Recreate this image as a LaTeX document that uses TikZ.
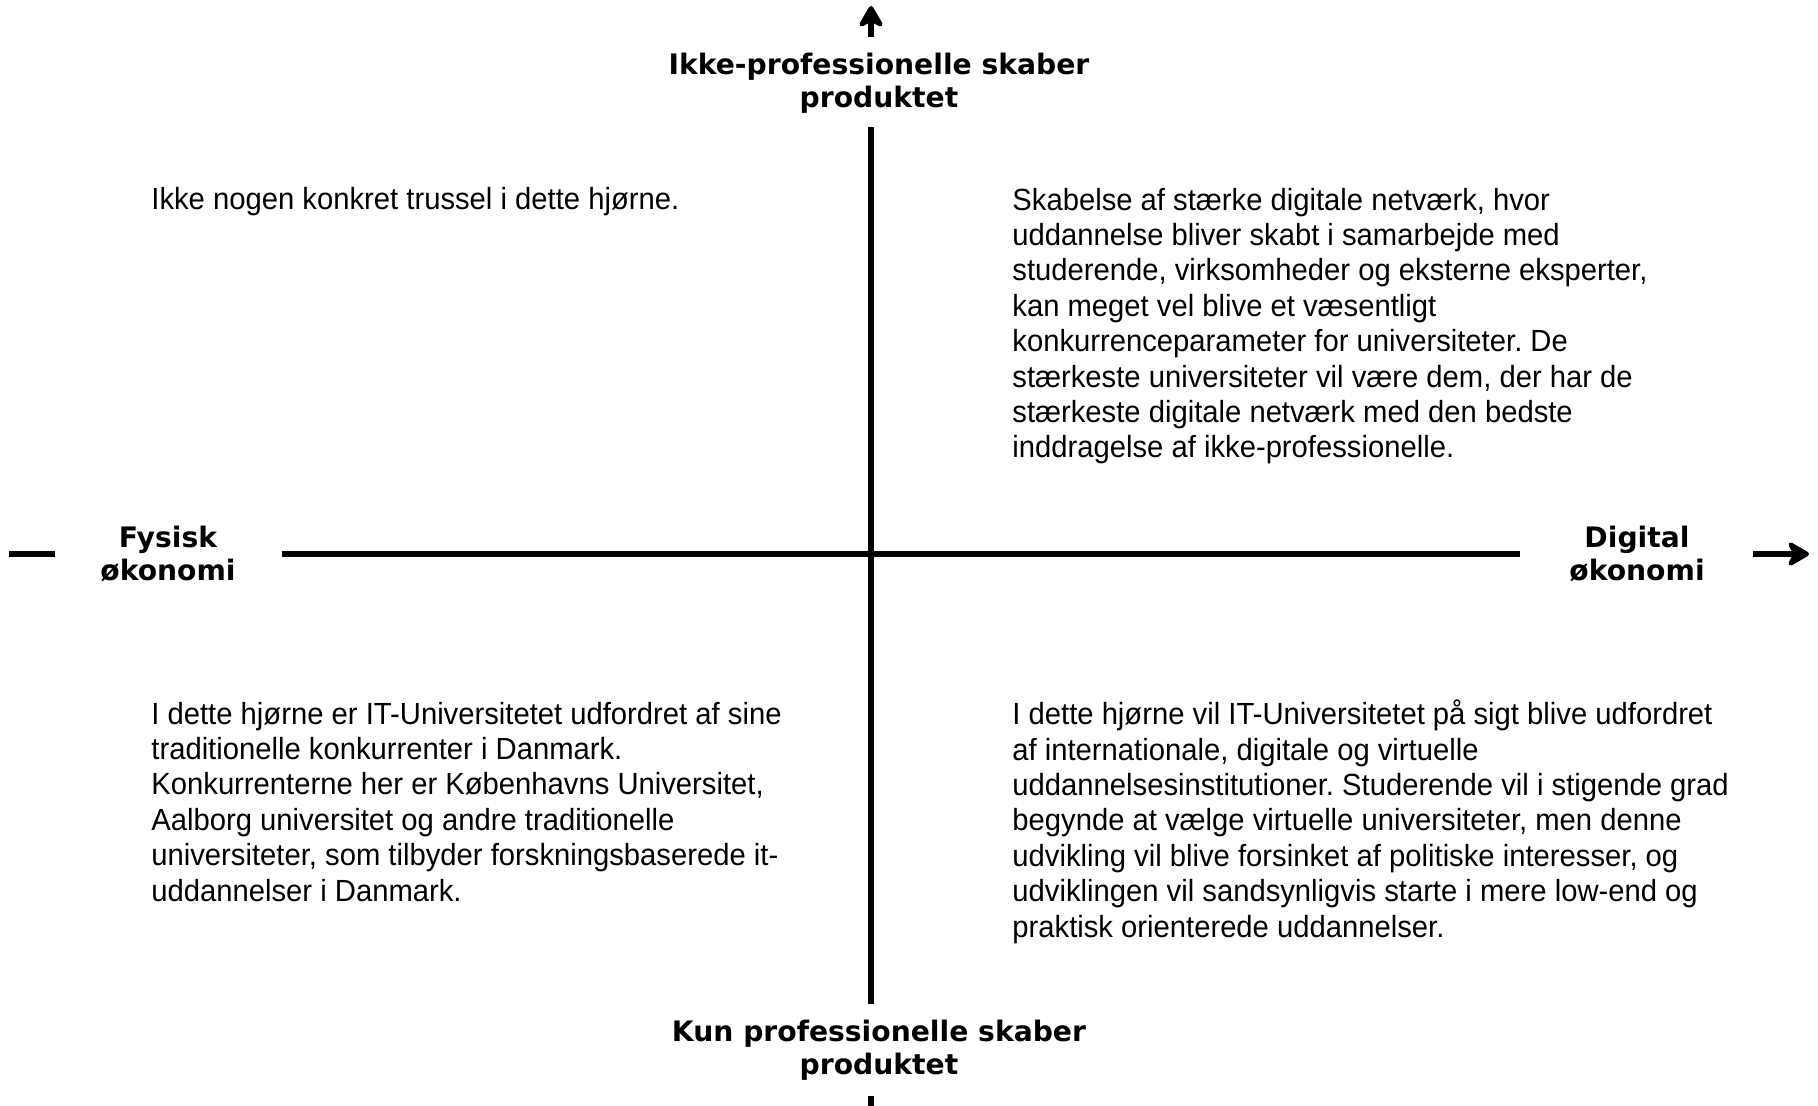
\documentclass[tikz,border=0pt]{standalone}
\usepackage{fontspec}
\setmainfont{Liberation Sans}[FakeStretch=0.955]
\newfontfamily\polefont{DejaVu Sans}
\usetikzlibrary{arrows.meta}
\frenchspacing

\begin{document}
\begin{tikzpicture}[x=0.5pt,y=-0.5pt,
  axis/.style={line width=3pt},
  tip/.style={-{Stealth[length=13pt,width=15pt,inset=4pt,round]}},
  pole/.style={font={\polefont\bfseries\fontsize{14.1}{16.5}\selectfont},align=center,anchor=base,inner sep=0pt},
  corner/.style={font={\fontsize{15.3}{17.7}\selectfont},align=left,anchor=base west,inner sep=0pt}]
\useasboundingbox (0,0) rectangle (1818,1106);
% axes
\draw[axis] (871,127) -- (871,1004);
\draw[axis,tip] (871,37) -- (871,6);
\draw[axis] (871,1096) -- (871,1110);
\draw[axis] (282,554) -- (1520,554);
\draw[axis] (9,554) -- (55,554);
\draw[axis,tip] (1753,554) -- (1809,554);
% pole labels (anchored at the baseline of the last line)
\node[pole] (top) at (879,108) {Ikke-professionelle skaber\\produktet};
\node[pole] (bottom) at (879,1074) {Kun professionelle skaber\\produktet};
\node[pole] (left) at (168,580) {Fysisk\\økonomi};
\node[pole] (right) at (1637,580) {Digital\\økonomi};
% quadrant texts
\node[corner] (nw) at (151,210) {Ikke nogen konkret trussel i dette hjørne.};
\node[corner] (ne) at (1012,458) {Skabelse af stærke digitale netværk, hvor\\
uddannelse bliver skabt i samarbejde med\\
studerende, virksomheder og eksterne eksperter,\\
kan meget vel blive et væsentligt\\
konkurrenceparameter for universiteter. De\\
stærkeste universiteter vil være dem, der har de\\
stærkeste digitale netværk med den bedste\\
inddragelse af ikke-professionelle.};
\node[corner] (sw) at (151,901) {I dette hjørne er IT-Universitetet udfordret af sine\\
traditionelle konkurrenter i Danmark.\\
Konkurrenterne her er Københavns Universitet,\\
Aalborg universitet og andre traditionelle\\
universiteter, som tilbyder forskningsbaserede it-\\
uddannelser i Danmark.};
\node[corner] (se) at (1012,937) {I dette hjørne vil IT-Universitetet på sigt blive udfordret\\
af internationale, digitale og virtuelle\\
uddannelsesinstitutioner. Studerende vil i stigende grad\\
begynde at vælge virtuelle universiteter, men denne\\
udvikling vil blive forsinket af politiske interesser, og\\
udviklingen vil sandsynligvis starte i mere low-end og\\
praktisk orienterede uddannelser.};
\end{tikzpicture}
\end{document}
